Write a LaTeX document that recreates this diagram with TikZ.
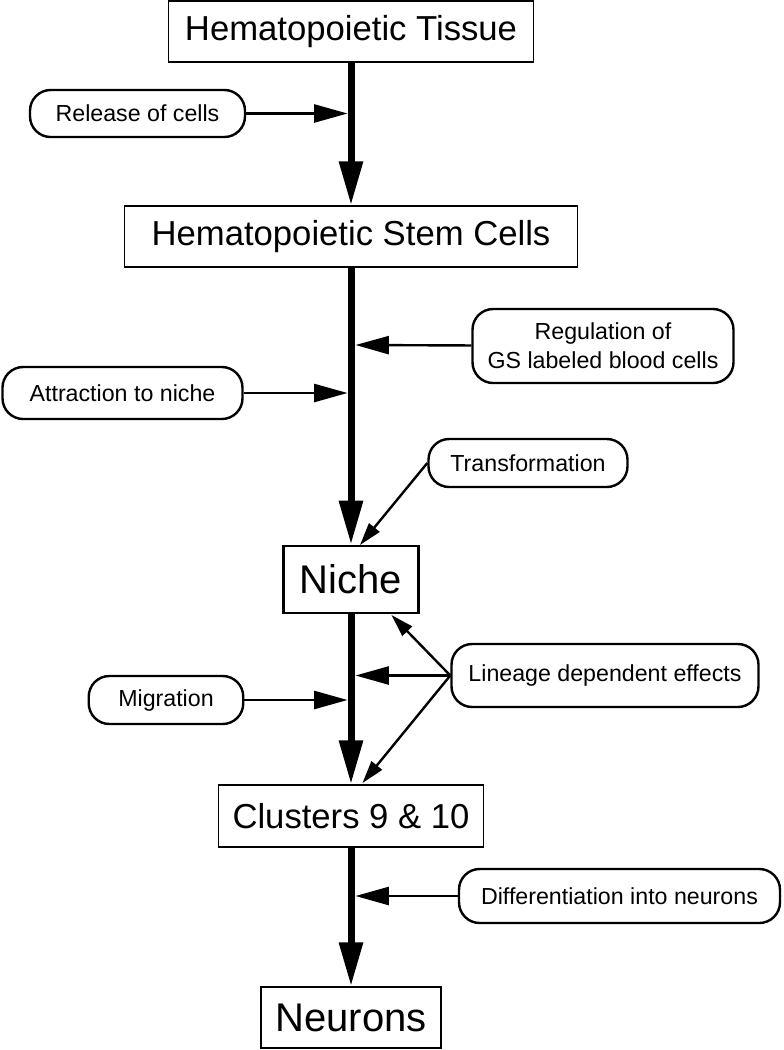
\documentclass[tikz,border=0pt]{standalone}
\usepackage{fontspec}
\setmainfont{Liberation Sans}
\usetikzlibrary{arrows.meta}

\newcommand{\bigtxt}{\fontsize{26}{30}\selectfont}
\newcommand{\hugetxt}{\fontsize{30}{34}\selectfont}
\newcommand{\smalltxt}{\fontsize{17.4}{21.5}\selectfont}

\begin{document}
\begin{tikzpicture}
        [x=0.75pt, y=-0.75pt,
        StageBox/.style={rectangle,draw,line width=1pt,inner sep=0pt,font=\bigtxt},
            NicheBox/.style={rectangle,draw,line width=1.9pt,inner sep=0pt,font=\hugetxt},
			EffectBox/.style={rectangle,draw,line width=1.8pt,rounded corners=15.5pt,inner sep=0pt,align=center,font=\smalltxt},
			MainArrow/.style={line width=5.25pt,-{Triangle[length=33pt,width=17pt]}},
			SideArrow/.style={line width=1.8pt,-{Triangle[length=25pt,width=13.5pt]}},
			SlantArrow/.style={line width=1.8pt,-{Triangle[length=17pt,width=10pt]}},
        ]

        \useasboundingbox (0,0) rectangle (783,1050);

        \node[StageBox, minimum width=273.75pt, minimum height=45.75pt] (tissue) at (351, 31.5){Hematopoietic Tissue};
		\node[StageBox, minimum width=339.75pt, minimum height=45.75pt] (hsc) at (351, 236.5){Hematopoietic Stem Cells};
        \node[NicheBox, minimum width=101.25pt, minimum height=50.25pt] (niche) at (351, 579.5){Niche};
\node[StageBox, minimum width=198.75pt, minimum height=46.5pt] (clusters) at (351, 816){Clusters 9 \& 10};
\node[NicheBox, line width=1pt, minimum width=135pt, minimum height=45.75pt] (neurons) at (351, 1017.5){Neurons};

\node[EffectBox, minimum width=161.25pt, minimum height=35.25pt] (release) at (137.5, 113.5){Release of cells};
\node[EffectBox, minimum width=195.75pt, minimum height=55.5pt] (regul) at (603, 346){Regulation of\\GS labeled blood cells};
\node[EffectBox, minimum width=180pt, minimum height=39pt] (attract) at (122.5, 393){Attraction to niche};
\node[EffectBox, minimum width=149.25pt, minimum height=36pt] (transf) at (528, 463){Transformation};
\node[EffectBox, minimum width=230.25pt, minimum height=47.25pt] (lineage) at (605, 675.5){Lineage dependent effects};
\node[EffectBox, minimum width=115.9pt, minimum height=36pt] (migr) at (166, 700){Migration};
\node[EffectBox, minimum width=240.75pt, minimum height=40.5pt] (diff) at (619.5, 896){Differentiation into neurons};

\coordinate (releaseEnd) at (347.5, 113.5);
\coordinate (regulEnd) at (355.5, 345);
\coordinate (attractEnd) at (347.5, 393);
\coordinate (transfEnd) at (360, 545);
\coordinate (lineageUp) at (391.5, 615);
\coordinate (lineageMid) at (355.5, 675.5);
\coordinate (lineageDown) at (362.5, 783);
\coordinate (migrEnd) at (347.5, 700);
\coordinate (diffEnd) at (355.5, 896);

\draw [MainArrow] (tissue) to (hsc);
\draw [MainArrow] (hsc) to (niche);
\draw [MainArrow] (niche) to (clusters);
\draw [MainArrow] (clusters) to (neurons);

\draw [SideArrow] (release) to (releaseEnd);
\draw [SideArrow] (regul) to (regulEnd);
\draw [SideArrow] (attract) to (attractEnd);
\draw [SlantArrow] (transf.west) to (transfEnd);
\draw [SlantArrow] (lineage.west) to (lineageUp);
\draw [SideArrow] (lineage.west) to (lineageMid);
\draw [SlantArrow] (lineage.west) to (lineageDown);
\draw [SideArrow] (migr) to (migrEnd);
\draw [SideArrow] (diff) to (diffEnd);

    \end{tikzpicture}
\end{document}
